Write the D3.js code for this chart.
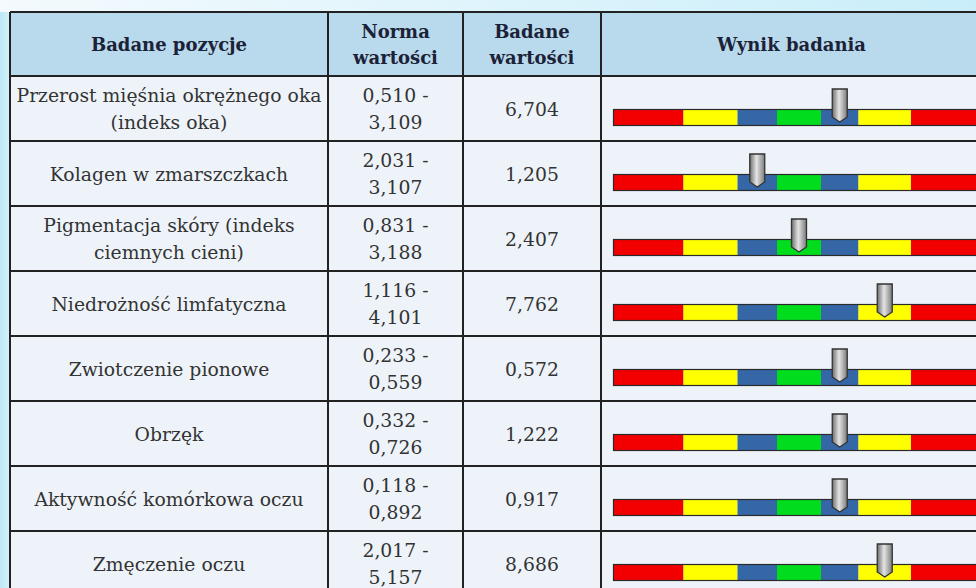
<!DOCTYPE html>
<html>
<head>
<meta charset="utf-8">
<script src="https://cdn.jsdelivr.net/npm/d3@7"></script>
<style>
  html, body { margin: 0; padding: 0; background: #c4ecf8; }
  svg { display: block; }
  svg text { font-family: "DejaVu Serif", "Liberation Serif", serif; }
</style>
</head>
<body>
<div id="chart"></div>
<script>
// Data
const labels = [
  ["Przerost mięśnia okrężnego oka", "(indeks oka)"],
  ["Kolagen w zmarszczkach"],
  ["Pigmentacja skóry (indeks", "ciemnych cieni)"],
  ["Niedrożność limfatyczna"],
  ["Zwiotczenie pionowe"],
  ["Obrzęk"],
  ["Aktywność komórkowa oczu"],
  ["Zmęczenie oczu"]
]
const normLow = [0.510, 2.031, 0.831, 1.116, 0.233, 0.332, 0.118, 2.017]
const normHigh = [3.109, 3.107, 3.188, 4.101, 0.559, 0.726, 0.892, 5.157]
const measured = [6.704, 1.205, 2.407, 7.762, 0.572, 1.222, 0.917, 8.686]
// zone (0..6) of the scale in which the pointer sits
const resultZone = [4, 2, 3, 5, 4, 4, 4, 5]

const headers = [["Badane pozycje"], ["Norma", "wartości"], ["Badane", "wartości"], ["Wynik badania"]]
const zoneColors = ["#f20000", "#ffff00", "#3566a6", "#00dd1c", "#3566a6", "#ffff00", "#f20000"]
const zoneWeights = [70.5, 54, 39.5, 44, 37.5, 52.5, 70.5]

const width = 976, height = 588
const colEdges = [10, 328, 463, 601, 990]
const tableTop = 12, headerBottom = 76, rowH = 65
const fontSize = 18.8
const headFontSize = 18
const lineH = 26.5

const pl = d3.formatLocale({ decimal: ",", thousands: " ", grouping: [3], currency: ["", ""] })
const fmt = pl.format(".3f")

const svg = d3.select("#chart").append("svg")
  .attr("width", width)
  .attr("height", height)

const defs = svg.append("defs")

// page background
const topGrad = defs.append("linearGradient").attr("id", "topGrad")
  .attr("x1", "0%").attr("x2", "100%").attr("y1", "0%").attr("y2", "0%")
topGrad.append("stop").attr("offset", "0%").attr("stop-color", "#f4fafd")
topGrad.append("stop").attr("offset", "100%").attr("stop-color", "#c9eefa")

const leftGrad = defs.append("linearGradient").attr("id", "leftGrad")
  .attr("x1", "0%").attr("x2", "100%").attr("y1", "0%").attr("y2", "0%")
leftGrad.append("stop").attr("offset", "0%").attr("stop-color", "#bce8f6")
leftGrad.append("stop").attr("offset", "100%").attr("stop-color", "#d6f2fb")

svg.append("rect").attr("width", width).attr("height", height).attr("fill", "#c4ecf8")
svg.append("rect").attr("width", 10).attr("height", height).attr("fill", "url(#leftGrad)")
svg.append("rect").attr("width", width).attr("height", tableTop).attr("fill", "url(#topGrad)")

// pointer gradient
const markGrad = defs.append("linearGradient").attr("id", "markGrad")
  .attr("x1", "0%").attr("x2", "100%").attr("y1", "0%").attr("y2", "0%")
markGrad.append("stop").attr("offset", "0%").attr("stop-color", "#6e6e6e")
markGrad.append("stop").attr("offset", "45%").attr("stop-color", "#e4e4e4")
markGrad.append("stop").attr("offset", "100%").attr("stop-color", "#7a7a7a")

const rowIdx = d3.range(labels.length)
const y = d3.scaleBand()
  .domain(rowIdx)
  .range([headerBottom, headerBottom + rowH * labels.length])
  .paddingInner(0).paddingOuter(0)

// cumulative zone edges -> pixel scale of the result bar
const zoneEdges = [0]
zoneWeights.forEach(w => zoneEdges.push(zoneEdges[zoneEdges.length - 1] + w))
const barX = d3.scaleLinear()
  .domain([0, d3.sum(zoneWeights)])
  .range([colEdges[3] + 12, colEdges[3] + 12 + d3.sum(zoneWeights)])

const table = svg.append("g").attr("class", "table")

// header row
table.append("rect")
  .attr("x", colEdges[0]).attr("y", tableTop)
  .attr("width", colEdges[4] - colEdges[0]).attr("height", headerBottom - tableTop)
  .attr("fill", "#b9d9ec")

// body cells
table.append("rect")
  .attr("x", colEdges[0]).attr("y", headerBottom)
  .attr("width", colEdges[4] - colEdges[0]).attr("height", y.range()[1] - headerBottom)
  .attr("fill", "#eef3fa")

function multiline(g, lines, cx, cy, opts) {
  const t = g.append("text")
    .attr("x", cx)
    .attr("text-anchor", "middle")
    .attr("font-size", opts.size || fontSize)
    .attr("font-weight", opts.bold ? "bold" : "normal")
    .attr("fill", opts.color)
  const first = cy + 7 - (lines.length - 1) * lineH / 2
  lines.forEach((ln, i) => {
    t.append("tspan").attr("x", cx).attr("y", first + i * lineH).text(ln)
  })
}

const colCenter = i => (colEdges[i] + colEdges[i + 1]) / 2
const headerMid = (tableTop + headerBottom) / 2

headers.forEach((h, i) => {
  const cx = i === 3 ? colCenter(i) - 4 : colCenter(i)
  multiline(table, h, cx, headerMid, { bold: true, color: "#1b2238", size: headFontSize })
})

const rows = table.selectAll(".row")
  .data(rowIdx)
  .join("g")
  .attr("class", "row")

rows.each(function (i) {
  const g = d3.select(this)
  const mid = y(i) + y.bandwidth() / 2
  multiline(g, labels[i], colCenter(0), mid, { color: "#333" })
  multiline(g, [fmt(normLow[i]) + " -", fmt(normHigh[i])], colCenter(1), mid, { color: "#333" })
  multiline(g, [fmt(measured[i])], colCenter(2), mid, { color: "#333" })
})

// result bars
const barTop = 33, barH = 17
rows.each(function (i) {
  const g = d3.select(this)
  const top = y(i) + barTop
  g.selectAll(".zone")
    .data(zoneColors)
    .join("rect")
    .attr("class", "zone")
    .attr("x", (d, k) => barX(zoneEdges[k]))
    .attr("width", (d, k) => barX(zoneEdges[k + 1]) - barX(zoneEdges[k]))
    .attr("y", top)
    .attr("height", barH)
    .attr("fill", d => d)
  g.append("rect")
    .attr("x", barX(0) + 0.5)
    .attr("y", top + 0.5)
    .attr("width", barX(zoneEdges[zoneEdges.length - 1]) - barX(0) - 1)
    .attr("height", barH - 1)
    .attr("fill", "none")
    .attr("stroke", "#2a2a2a")
    .attr("stroke-width", 1.2)

  // pointer
  const z = resultZone[i]
  const cx = barX((zoneEdges[z] + zoneEdges[z + 1]) / 2)
  const mt = y(i) + 13, mb = y(i) + 41, tip = y(i) + 46, hw = 7.5
  g.append("path")
    .attr("d", `M${cx - hw},${mt} L${cx + hw},${mt} L${cx + hw},${mb} L${cx},${tip} L${cx - hw},${mb} Z`)
    .attr("fill", "url(#markGrad)")
    .attr("stroke", "#333")
    .attr("stroke-width", 1.3)
})

// grid lines
const grid = svg.append("g").attr("class", "grid")
  .attr("stroke", "#222").attr("stroke-width", 2)
const hLines = [tableTop, headerBottom].concat(rowIdx.map(i => y(i) + y.bandwidth()))
grid.selectAll(".h")
  .data(hLines)
  .join("line")
  .attr("x1", colEdges[0]).attr("x2", colEdges[4])
  .attr("y1", d => d).attr("y2", d => d)
grid.selectAll(".v")
  .data(colEdges)
  .join("line")
  .attr("x1", d => d).attr("x2", d => d)
  .attr("y1", tableTop).attr("y2", y.range()[1])
</script>
</body>
</html>
